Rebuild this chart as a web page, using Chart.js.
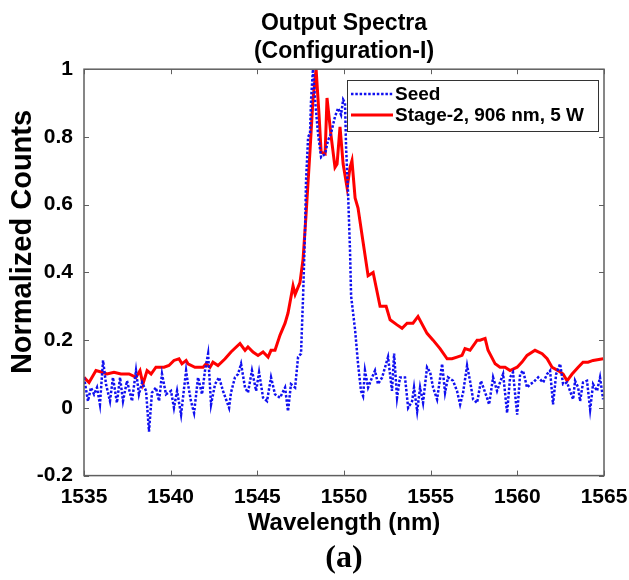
<!DOCTYPE html>
<html>
<head>
    <title>Output Spectra (Configuration-I)</title>
    <script src="https://cdn.jsdelivr.net/npm/chart.js"></script>
    <style>
        body {
            margin: 0;
            padding: 0;
            overflow: hidden;
            background-color: #ffffff;
        }
        #chart-container {
            position: relative;
            width: 629px;
            height: 580px;
        }
    </style>
</head>
<body>
    <div id="chart-container">
        <canvas id="myChart"></canvas>
    </div>

    <script>
        // Seed spectrum (blue dotted)
        const seedWavelength = [
            1535.0, 1535.23, 1535.4, 1535.58, 1535.75, 1535.92, 1536.1, 1536.27, 1536.5, 1536.67,
            1536.9, 1537.08, 1537.25, 1537.48, 1537.77, 1538.0, 1538.17, 1538.35, 1538.58, 1538.75,
            1538.92, 1539.15, 1539.33, 1539.5, 1539.73, 1540.02, 1540.19, 1540.37, 1540.6, 1540.89,
            1541.0, 1541.17, 1541.35, 1541.58, 1541.81, 1541.98, 1542.16, 1542.33, 1542.56, 1542.79,
            1543.02, 1543.37, 1543.48, 1543.71, 1543.89, 1544.06, 1544.29, 1544.46, 1544.69, 1544.93,
            1545.1, 1545.33, 1545.56, 1545.79, 1546.02, 1546.31, 1546.6, 1546.77, 1546.94, 1547.18,
            1547.35, 1547.52, 1547.64, 1547.75, 1547.81, 1547.93, 1548.04, 1548.1, 1548.21, 1548.33,
            1548.5, 1548.68, 1548.91, 1549.08, 1549.25, 1549.48, 1549.66, 1549.83, 1549.95, 1550.06,
            1550.12, 1550.23, 1550.35, 1550.41, 1550.64, 1550.81, 1550.98, 1551.1, 1551.21, 1551.39,
            1551.62, 1551.79, 1551.96, 1552.2, 1552.37, 1552.54, 1552.77, 1552.89, 1553.06, 1553.23,
            1553.52, 1553.7, 1553.93, 1554.04, 1554.22, 1554.39, 1554.56, 1554.79, 1554.97, 1555.14,
            1555.37, 1555.66, 1555.83, 1556.0, 1556.29, 1556.52, 1556.7, 1556.87, 1557.1, 1557.27,
            1557.45, 1557.68, 1557.9, 1558.25, 1558.37, 1558.6, 1558.83, 1559.0, 1559.18, 1559.41,
            1559.58, 1559.75, 1559.99, 1560.16, 1560.33, 1560.56, 1560.74, 1560.91, 1561.2, 1561.49,
            1561.72, 1561.89, 1562.06, 1562.24, 1562.47, 1562.64, 1562.87, 1563.04, 1563.22, 1563.33,
            1563.51, 1563.62, 1563.79, 1564.02, 1564.2, 1564.37, 1564.6, 1564.77, 1564.95
        ];
        const seedCounts = [
            0.09, 0.02, 0.06, 0.04, 0.06, 0.01, 0.14, 0.07, 0.02, 0.09,
            0.015, 0.09, 0.02, 0.08, 0.02, 0.11, 0.04, 0.075, 0.05, -0.07,
            0.045, 0.06, 0.02, 0.10, 0.04, 0.05, 0.0, 0.05, -0.02, 0.11,
            0.07, 0.02, -0.015, 0.09, 0.04, 0.11, 0.16, 0.01, 0.07, 0.09,
            0.05, 0.0, 0.045, 0.09, 0.10, 0.13, 0.06, 0.045, 0.11, 0.05,
            0.105, 0.03, 0.02, 0.09, 0.04, 0.03, 0.06, -0.01, 0.07, 0.06,
            0.15, 0.16, 0.33, 0.52, 0.67, 0.80, 0.81, 0.91, 1.0, 0.91,
            0.81, 0.74, 0.75, 0.79, 0.81, 0.86, 0.885, 0.865, 0.91, 0.90,
            0.77, 0.64, 0.46, 0.33, 0.23, 0.13, 0.05, 0.035, 0.11, 0.06,
            0.09, 0.11, 0.07, 0.09, 0.12, 0.15, 0.05, 0.16, 0.03, 0.09,
            0.09, 0.0, 0.02, 0.06, -0.01, 0.06, 0.015, 0.12, 0.105, 0.06,
            0.025, 0.13, 0.045, 0.09, 0.08, 0.05, 0.01, 0.045, 0.125, 0.08,
            0.025, 0.015, 0.08, 0.03, 0.01, 0.09, 0.05, 0.075, 0.10, -0.015,
            0.09, 0.105, -0.02, 0.10, 0.11, 0.06, 0.07, 0.075, 0.09, 0.075,
            0.10, 0.11, 0.01, 0.10, 0.13, 0.07, 0.075, 0.05, 0.025, 0.08,
            0.06, 0.02, 0.075, 0.08, -0.005, 0.07, 0.05, 0.09, 0.025
        ];

        // Stage-2, 906 nm, 5 W (red solid)
        const stageWavelength = [
            1535.0, 1535.29, 1535.69, 1536.04, 1536.33, 1536.73, 1537.13, 1537.6, 1538.0, 1538.23,
            1538.4, 1538.64, 1538.87, 1539.15, 1539.44, 1539.62, 1539.9, 1540.19, 1540.48, 1540.65,
            1540.89, 1541.0, 1541.4, 1541.87, 1542.04, 1542.27, 1542.44, 1542.73, 1543.14, 1543.48,
            1544.0, 1544.29, 1544.46, 1544.75, 1545.04, 1545.33, 1545.62, 1545.79, 1546.02, 1546.31,
            1546.6, 1546.77, 1547.06, 1547.18, 1547.46, 1547.64, 1547.81, 1548.04, 1548.21, 1548.39,
            1548.56, 1548.68, 1548.91, 1549.02, 1549.25, 1549.48, 1549.6, 1549.77, 1549.95, 1550.18,
            1550.35, 1550.46, 1550.64, 1550.81, 1551.1, 1551.39, 1551.68, 1552.08, 1552.43, 1552.66,
            1553.06, 1553.35, 1553.64, 1553.98, 1554.27, 1554.79, 1555.14, 1555.54, 1555.95, 1556.23,
            1556.52, 1556.81, 1556.98, 1557.27, 1557.68, 1557.85, 1558.14, 1558.31, 1558.72, 1559.0,
            1559.29, 1559.58, 1559.99, 1560.27, 1560.56, 1561.02, 1561.43, 1561.72, 1562.0, 1562.35,
            1562.64, 1562.87, 1563.16, 1563.51, 1563.79, 1564.08, 1564.37, 1564.95
        ];
        const stageCounts = [
            0.09, 0.075, 0.11, 0.105, 0.10, 0.105, 0.10, 0.10, 0.09, 0.11,
            0.07, 0.11, 0.10, 0.12, 0.12, 0.12, 0.125, 0.14, 0.145, 0.13,
            0.14, 0.13, 0.12, 0.12, 0.13, 0.12, 0.135, 0.125, 0.145, 0.165,
            0.19, 0.17, 0.18, 0.165, 0.155, 0.165, 0.15, 0.17, 0.17, 0.215,
            0.25, 0.28, 0.36, 0.335, 0.37, 0.44, 0.57, 0.76, 0.91, 1.0,
            0.865, 0.755, 0.75, 0.915, 0.805, 0.71, 0.72, 0.83, 0.72, 0.65,
            0.71, 0.73, 0.62, 0.59, 0.49, 0.39, 0.40, 0.30, 0.30, 0.26,
            0.245, 0.235, 0.25, 0.25, 0.27, 0.22, 0.20, 0.175, 0.145, 0.145,
            0.15, 0.155, 0.175, 0.17, 0.20, 0.20, 0.205, 0.17, 0.13, 0.12,
            0.12, 0.11, 0.12, 0.135, 0.155, 0.17, 0.16, 0.145, 0.12, 0.11,
            0.10, 0.08, 0.10, 0.12, 0.135, 0.135, 0.14, 0.145
        ];

        const xTicks = [1535, 1540, 1545, 1550, 1555, 1560, 1565];
        const xTickLabels = ['1535', '1540', '1545', '1550', '1555', '1560', '1565'];
        const yTicks = [-0.2, 0, 0.2, 0.4, 0.6, 0.8, 1];
        const yTickLabels = ['-0.2', '0', '0.2', '0.4', '0.6', '0.8', '1'];

        const toPoints = (xs, ys) => xs.map((x, i) => ({ x: x, y: ys[i] }));

        const axisColor = '#5f5f5f';
        const fontFamily = "'Liberation Sans', Arial, sans-serif";

        // MATLAB style box with inward ticks on all four sides, plus legend and y label
        const boxPlugin = {
            id: 'matlabBox',
            afterDatasetsDraw(chart) {
                const { ctx, chartArea: a, scales } = chart;
                ctx.save();
                ctx.strokeStyle = axisColor;
                ctx.lineWidth = 1.5;
                ctx.strokeRect(a.left, a.top, a.right - a.left, a.bottom - a.top);
                const len = 5;
                ctx.beginPath();
                xTicks.forEach(v => {
                    const px = Math.round(scales.x.getPixelForValue(v)) + 0.5;
                    ctx.moveTo(px, a.bottom); ctx.lineTo(px, a.bottom - len);
                    ctx.moveTo(px, a.top); ctx.lineTo(px, a.top + len);
                });
                yTicks.forEach(v => {
                    const py = Math.round(scales.y.getPixelForValue(v)) + 0.5;
                    ctx.moveTo(a.left, py); ctx.lineTo(a.left + len, py);
                    ctx.moveTo(a.right, py); ctx.lineTo(a.right - len, py);
                });
                ctx.lineWidth = 1;
                ctx.stroke();

                // legend box in upper right
                const lx = 347, ly = 80, lw = 251, lh = 51;
                ctx.fillStyle = '#ffffff';
                ctx.fillRect(lx, ly, lw, lh);
                ctx.strokeStyle = '#333333';
                ctx.lineWidth = 1;
                ctx.strokeRect(lx + 0.5, ly + 0.5, lw, lh);
                ctx.font = 'bold 19px ' + fontFamily;
                ctx.textBaseline = 'middle';
                ctx.textAlign = 'left';
                chart.data.datasets.forEach((ds, i) => {
                    const cy = ly + 14 + i * 21;
                    ctx.beginPath();
                    ctx.strokeStyle = ds.borderColor;
                    ctx.lineWidth = ds.borderWidth;
                    ctx.setLineDash(ds.borderDash || []);
                    ctx.moveTo(lx + 4, cy);
                    ctx.lineTo(lx + 46, cy);
                    ctx.stroke();
                    ctx.setLineDash([]);
                    ctx.fillStyle = '#000000';
                    ctx.fillText(ds.label, lx + 48, cy + 1);
                });

                // y axis label
                ctx.save();
                ctx.translate(23, 242);
                ctx.rotate(-Math.PI / 2);
                ctx.textAlign = 'center';
                ctx.textBaseline = 'middle';
                ctx.font = 'bold 29px ' + fontFamily;
                ctx.fillStyle = '#000000';
                ctx.fillText('Normalized Counts', 0, 0);
                ctx.restore();
                ctx.restore();
            }
        };

        new Chart(document.getElementById('myChart'), {
            type: 'line',
            data: {
                datasets: [{
                    label: 'Seed',
                    data: toPoints(seedWavelength, seedCounts),
                    borderColor: '#1010f0',
                    borderWidth: 2.5,
                    borderDash: [2.5, 1.8],
                    pointRadius: 0,
                    tension: 0
                }, {
                    label: 'Stage-2, 906 nm, 5 W',
                    data: toPoints(stageWavelength, stageCounts),
                    borderColor: '#ff0000',
                    borderWidth: 3,
                    pointRadius: 0,
                    tension: 0
                }]
            },
            options: {
                responsive: true,
                maintainAspectRatio: false,
                animation: false,
                layout: { padding: { left: 0, right: 25, top: 0, bottom: 0 } },
                plugins: {
                    legend: { display: false },
                    tooltip: { enabled: false },
                    title: {
                        display: true,
                        fullSize: false,
                        text: ['Output Spectra', '(Configuration-I)'],
                        color: '#000000',
                        font: { size: 23, weight: 'bold', family: fontFamily, lineHeight: 1.2 },
                        padding: { top: 10, bottom: 4 }
                    },
                    subtitle: {
                        display: true,
                        fullSize: false,
                        position: 'bottom',
                        text: '(a)',
                        color: '#000000',
                        font: { size: 32, weight: 'bold', family: "'Liberation Serif', 'Times New Roman', serif", lineHeight: 1.2 },
                        padding: { top: 0, bottom: 2 }
                    }
                },
                scales: {
                    x: {
                        type: 'linear',
                        min: 1535,
                        max: 1565,
                        afterBuildTicks: scale => { scale.ticks = xTicks.map(v => ({ value: v })); },
                        afterFit: scale => {
                            scale.height = 64;
                            scale.paddingLeft = 0;
                            scale.paddingRight = 0;
                        },
                        grid: { display: false, drawTicks: false },
                        border: { display: false },
                        ticks: {
                            color: '#000000',
                            padding: 9,
                            maxRotation: 0,
                            callback: (value, index) => xTickLabels[index],
                            font: { size: 21, weight: 'bold', family: fontFamily, lineHeight: 1.2 }
                        },
                        title: {
                            display: true,
                            text: 'Wavelength (nm)',
                            color: '#000000',
                            padding: { top: 0, bottom: 2 },
                            font: { size: 24, weight: 'bold', family: fontFamily, lineHeight: 1.2 }
                        }
                    },
                    y: {
                        min: -0.2,
                        max: 1,
                        afterBuildTicks: scale => { scale.ticks = yTicks.map(v => ({ value: v })); },
                        afterFit: scale => { scale.width = 84; },
                        grid: { display: false, drawTicks: false },
                        border: { display: false },
                        ticks: {
                            color: '#000000',
                            padding: 11,
                            callback: (value, index) => yTickLabels[index],
                            font: { size: 21, weight: 'bold', family: fontFamily, lineHeight: 1.2 }
                        }
                    }
                }
            },
            plugins: [boxPlugin]
        });
    </script>
</body>
</html>
